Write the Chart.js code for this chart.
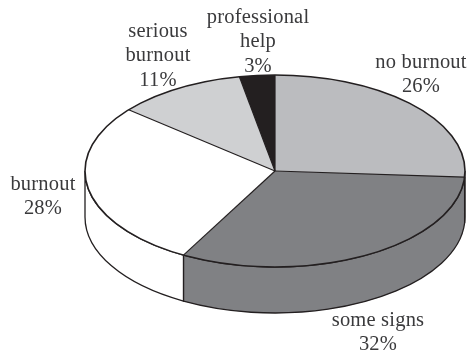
<!DOCTYPE html>
<html><head><meta charset="utf-8">
<style>html,body{margin:0;padding:0;background:#fff}canvas{display:block}</style>
<script src="https://cdn.jsdelivr.net/npm/chart.js@4"></script>
</head><body>
<canvas id="c" width="468" height="355"></canvas>
<script>
const categories = ["no burnout","some signs","burnout","serious burnout","professional help"];
const shares = [26,32,28,11,3];
const sliceColors = ["#bbbcbf","#808184","#ffffff","#cfd0d2","#231f20"];
const labelLines = [["no burnout","26%"],["some signs","32%"],["burnout","28%"],["serious","burnout","11%"],["professional","help","3%"]];
const labelAnchors = [[421,68],[378,326],[43,190],[158,37],[258,23]];

const RX = 190, RY = 96, DEPTH = 46, LINE = "#231f20";
const squash = RY / RX;

const pie3d = {
  id: "pie3d",
  beforeDatasetsDraw(chart) {
    const ctx = chart.ctx, arcs = chart.getDatasetMeta(0).data;
    ctx.save();
    arcs.forEach((arc, i) => {
      const a = Math.max(arc.startAngle, 0), b = Math.min(arc.endAngle, Math.PI);
      if (b <= a) return;
      ctx.beginPath();
      ctx.ellipse(arc.x, arc.y, RX, RY, 0, a, b);
      ctx.ellipse(arc.x, arc.y + DEPTH, RX, RY, 0, b, a, true);
      ctx.closePath();
      ctx.fillStyle = sliceColors[i];
      ctx.fill();
      ctx.strokeStyle = LINE; ctx.lineWidth = 1.3;
      ctx.stroke();
    });
    ctx.restore();
    ctx.save();
    const c = arcs[0];
    ctx.translate(c.x, c.y); ctx.scale(1, squash); ctx.translate(-c.x, -c.y);
  },
  afterDatasetsDraw(chart) {
    const ctx = chart.ctx, arcs = chart.getDatasetMeta(0).data;
    ctx.restore();
    ctx.save();
    ctx.strokeStyle = LINE; ctx.lineJoin = "round";
    arcs.forEach(arc => {
      ctx.lineWidth = 1.2;
      ctx.beginPath();
      ctx.moveTo(arc.x, arc.y);
      ctx.lineTo(arc.x + RX * Math.cos(arc.startAngle), arc.y + RY * Math.sin(arc.startAngle));
      ctx.stroke();
    });
    ctx.lineWidth = 1.6;
    ctx.beginPath();
    ctx.ellipse(arcs[0].x, arcs[0].y, RX, RY, 0, 0, Math.PI * 2);
    ctx.stroke();
    ctx.restore();
  },
  afterDraw(chart) {
    const ctx = chart.ctx;
    ctx.save();
    ctx.font = '20.5px "Liberation Serif", serif';
    ctx.letterSpacing = "0.2px";
    ctx.fillStyle = "#3a3a3c";
    ctx.textAlign = "center";
    ctx.textBaseline = "alphabetic";
    labelLines.forEach((lines, i) => {
      lines.forEach((t, j) => ctx.fillText(t, labelAnchors[i][0], labelAnchors[i][1] + j * 24.3));
    });
    ctx.restore();
  }
};

new Chart(document.getElementById("c"), {
  type: "pie",
  data: { labels: categories, datasets: [{ data: shares, backgroundColor: sliceColors, borderWidth: 0, clip: false }] },
  options: {
    responsive: false,
    animation: false,
    radius: RX,
    layout: { padding: { left: 82, right: 0, top: 0, bottom: 13 } },
    plugins: { legend: { display: false }, tooltip: { enabled: false }, title: { display: false } }
  },
  plugins: [pie3d]
});
</script>
</body></html>
